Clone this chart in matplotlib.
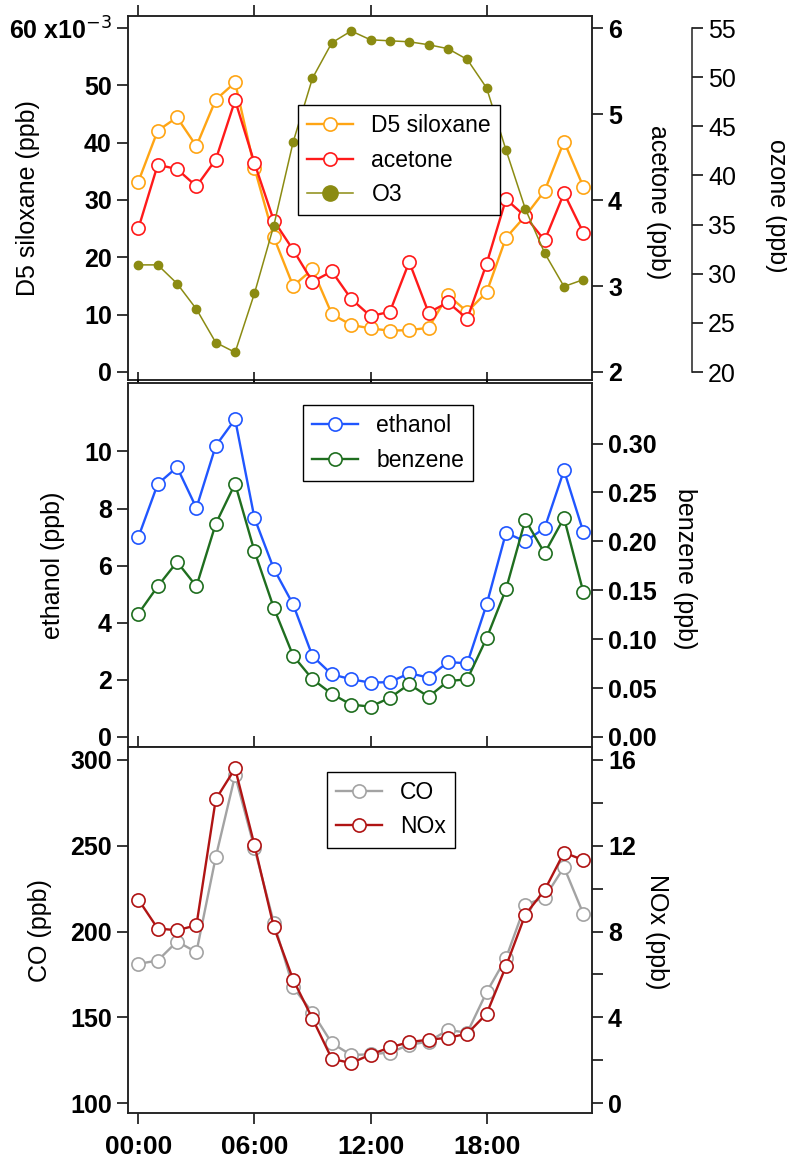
import matplotlib
matplotlib.use("Agg")
import matplotlib.pyplot as plt
from matplotlib.lines import Line2D

plt.rcParams['font.family'] = ['Liberation Sans', 'DejaVu Sans']

# hour of day (00:00 .. 23:00)
hours = list(range(24))
hour_ticks = [0, 6, 12, 18]
hour_labels = ["00:00", "06:00", "12:00", "18:00"]

# top panel
d5_siloxane = [33.2, 42.1, 44.4, 39.4, 47.5, 50.5, 35.6, 23.5, 15.0, 17.9, 10.1, 8.2,
               7.6, 7.2, 7.3, 7.7, 13.4, 10.5, 13.9, 23.4, 27.2, 31.6, 40.2, 32.3]  # ppb x10^-3
acetone = [3.67, 4.41, 4.36, 4.16, 4.47, 5.16, 4.43, 3.76, 3.42, 3.05, 3.17, 2.85,
           2.65, 2.70, 3.28, 2.69, 2.81, 2.62, 3.26, 4.01, 3.81, 3.53, 4.08, 3.62]
ozone = [30.9, 30.9, 29.0, 26.4, 23.0, 22.0, 28.0, 34.9, 43.4, 49.9, 53.5, 54.7,
         53.8, 53.7, 53.6, 53.3, 52.9, 51.8, 48.9, 42.6, 36.6, 32.1, 28.7, 29.4]

# middle panel
ethanol = [7.00, 8.86, 9.45, 8.02, 10.2, 11.13, 7.67, 5.89, 4.64, 2.83, 2.19, 2.02,
           1.90, 1.92, 2.23, 2.08, 2.62, 2.58, 4.64, 7.15, 6.85, 7.32, 9.34, 7.18]
benzene = [0.126, 0.154, 0.179, 0.154, 0.218, 0.259, 0.190, 0.132, 0.083, 0.059, 0.044, 0.033,
           0.031, 0.040, 0.054, 0.041, 0.057, 0.059, 0.101, 0.151, 0.222, 0.188, 0.224, 0.148]

# bottom panel
co = [181.2, 183.1, 194.2, 188.0, 243.4, 291.0, 248.6, 205.2, 167.6, 152.8, 135.0, 128.1,
      128.5, 129.5, 134.0, 135.9, 142.7, 141.1, 164.7, 184.5, 215.6, 219.8, 237.5, 210.3]
nox = [9.49, 8.14, 8.06, 8.29, 14.16, 15.6, 12.03, 8.21, 5.76, 3.94, 2.07, 1.87,
       2.27, 2.60, 2.85, 2.96, 3.05, 3.24, 4.17, 6.38, 8.79, 9.93, 11.68, 11.33]

TICK_FS = 18
LABEL_FS = 18
LEG_FS = 16.5
SPINE_C = "#222222"


def open_line(ax, y, color, label):
    return ax.plot(hours, y, color=color, lw=1.7, marker="o", ms=9.5, mfc="white",
                   mec=color, mew=1.2, label=label)[0]


def style(ax, show_x=False):
    ax.set_xlim(-0.55, 23.45)
    ax.set_xticks(hour_ticks)
    ax.tick_params(axis="x", top=True, bottom=True, direction="out", length=8, width=1.1,
                   labelbottom=show_x, labeltop=False, labelsize=TICK_FS + 1, pad=8)
    ax.tick_params(axis="y", direction="out", length=8, width=1.1, labelsize=TICK_FS)
    if show_x:
        ax.set_xticklabels(hour_labels, fontweight="bold")
    for s in ax.spines.values():
        s.set_linewidth(1.1)
        s.set_color(SPINE_C)


def bold_ticks(ax):
    for t in ax.get_yticklabels():
        t.set_fontweight("bold")


fig = plt.figure(figsize=(7.87, 11.62), dpi=100)
L, W = 0.1623, 0.590

# ---------- top panel ----------
ax1 = fig.add_axes([L, 0.673, W, 0.3132])
ax1b = ax1.twinx()
ax1c = ax1.twinx()
h_d5 = open_line(ax1, d5_siloxane, "#ffa514", "D5 siloxane")
h_ac = open_line(ax1b, acetone, "#ff1a1a", "acetone")
h_o3, = ax1c.plot(hours, ozone, color="#8b8b12", lw=1.1, marker="o", ms=6, label="O3")
ax1.set_ylim(-1.40, 62.09)
ax1.set_yticks([0, 10, 20, 30, 40, 50, 60])
ax1.set_yticklabels(["0", "10", "20", "30", "40", "50", "60 x10$^{-3}$"])
ax1b.set_ylim(1.907, 6.14)
ax1b.set_yticks([2, 3, 4, 5, 6])
ax1c.set_ylim(19.19, 56.22)
ax1c.set_yticks([20, 25, 30, 35, 40, 45, 50, 55])
for a in (ax1, ax1b, ax1c):
    style(a)
    bold_ticks(a)
ax1c.spines["right"].set_position(("axes", 1.2154))
ax1c.spines["right"].set_bounds(20, 55)
for s in ("left", "top", "bottom"):
    ax1c.spines[s].set_visible(False)
ax1.set_ylabel("D5 siloxane (ppb)", fontsize=LABEL_FS, va="center")
ax1.yaxis.set_label_coords(-0.215, 0.5)
ax1b.set_ylabel("acetone (ppb)", fontsize=LABEL_FS, rotation=270, va="center")
ax1b.yaxis.set_label_coords(1.142, 0.49)
ax1c.set_ylabel("ozone (ppb)", fontsize=LABEL_FS, rotation=270, va="center")
ax1c.yaxis.set_label_coords(1.399, 0.48)
leg_o3 = Line2D([], [], color="#8b8b12", lw=1.1, marker="o", ms=11)
ax1c.legend([h_d5, h_ac, leg_o3], ["D5 siloxane", "acetone", "O3"], loc="upper left",
            bbox_to_anchor=(0.367, 0.7555), borderaxespad=0, fontsize=LEG_FS,
            fancybox=False, edgecolor="black", framealpha=1, handlelength=2.0)

# ---------- middle panel ----------
ax2 = fig.add_axes([L, 0.357, W, 0.3134])
ax2b = ax2.twinx()
h_et = open_line(ax2, ethanol, "#2056ff", "ethanol")
h_bz = open_line(ax2b, benzene, "#1f6e1f", "benzene")
ax2.set_ylim(-0.36, 12.4)
ax2.set_yticks([0, 2, 4, 6, 8, 10])
ax2b.set_ylim(-0.0105, 0.362)
ax2b.set_yticks([0, 0.05, 0.10, 0.15, 0.20, 0.25, 0.30])
ax2b.set_yticklabels(["0.00", "0.05", "0.10", "0.15", "0.20", "0.25", "0.30"])
for a in (ax2, ax2b):
    style(a)
    bold_ticks(a)
ax2.set_ylabel("ethanol (ppb)", fontsize=LABEL_FS, va="center")
ax2.yaxis.set_label_coords(-0.161, 0.5)
ax2b.set_ylabel("benzene (ppb)", fontsize=LABEL_FS, rotation=270, va="center")
ax2b.yaxis.set_label_coords(1.200, 0.49)
ax2b.legend([h_et, h_bz], ["ethanol", "benzene"], loc="upper left",
            bbox_to_anchor=(0.3776, 0.9397), borderaxespad=0, fontsize=LEG_FS,
            fancybox=False, edgecolor="black", framealpha=1)

# ---------- bottom panel ----------
ax3 = fig.add_axes([L, 0.042, W, 0.315])
ax3b = ax3.twinx()
h_co = open_line(ax3, co, "#a3a3a3", "CO")
h_nx = open_line(ax3b, nox, "#b01414", "NOx")
ax3.set_ylim(94.2, 307.4)
ax3.set_yticks([100, 150, 200, 250, 300])
ax3b.set_ylim(-0.464, 16.59)
ax3b.set_yticks([0, 4, 8, 12, 16])
ax3b.set_yticks([2, 6, 10, 14], minor=True)
ax3b.tick_params(axis="y", which="minor", direction="out", length=8, width=1.1)
for a in (ax3, ax3b):
    style(a, show_x=(a is ax3))
    bold_ticks(a)
ax3.set_ylabel("CO (ppb)", fontsize=LABEL_FS, va="center")
ax3.yaxis.set_label_coords(-0.189, 0.5)
ax3b.set_ylabel("NOx (ppb)", fontsize=LABEL_FS, rotation=270, va="center")
ax3b.yaxis.set_label_coords(1.140, 0.497)
ax3b.legend([h_co, h_nx], ["CO", "NOx"], loc="upper left",
            bbox_to_anchor=(0.429, 0.9325), borderaxespad=0, fontsize=LEG_FS,
            fancybox=False, edgecolor="black", framealpha=1)

fig.savefig("out.png", dpi=100)
